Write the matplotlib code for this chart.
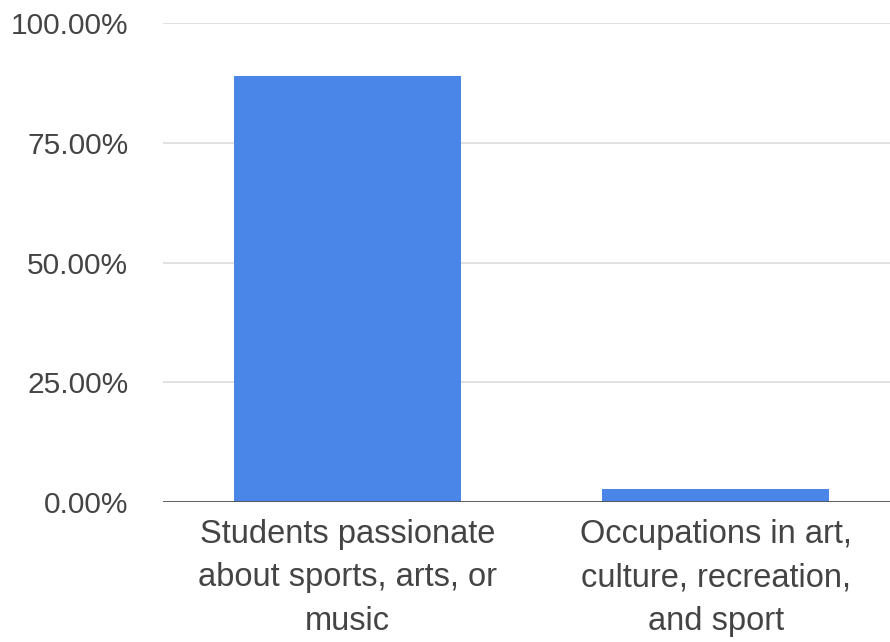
import matplotlib
matplotlib.use("Agg")
import matplotlib.pyplot as plt
from matplotlib.ticker import FuncFormatter

# Dados do gráfico
categorias = ["Students passionate\nabout sports, arts, or\nmusic",
              "Occupations in art,\nculture, recreation,\nand sport"]
valores = [0.889, 0.028]
ticks_y = [0, 0.25, 0.5, 0.75, 1.0]

plt.rcParams['font.family'] = ['Liberation Sans', 'DejaVu Sans']

fig = plt.figure(figsize=(8.9, 6.42), dpi=100, facecolor='white')
ax = fig.add_axes([163 / 890, 140 / 642, 737 / 890, 479 / 642])

posicoes = list(range(len(categorias)))
ax.bar(posicoes, valores, width=0.615, color='#4a86e8', zorder=3)

ax.set_xlim(-0.5, 1.5)
ax.set_ylim(0, 1.0)
ax.set_yticks(ticks_y)
ax.yaxis.set_major_formatter(FuncFormatter(lambda v, p: f"{v * 100:.2f}%"))
ax.set_xticks(posicoes)
ax.set_xticklabels(categorias, linespacing=1.53)

# Grade e linha de base
ax.grid(axis='y', color='#dcdcdc', linewidth=1.2, zorder=0)
ax.axhline(0, color='#555555', linewidth=1.3, zorder=4)
for s in ax.spines.values():
    s.set_visible(False)

ax.tick_params(axis='y', length=0, pad=25, labelsize=21.5, labelcolor='#444444')
ax.tick_params(axis='x', length=0, pad=12, labelsize=23.5, labelcolor='#444444')

fig.savefig("out.png", dpi=100, facecolor='white')
